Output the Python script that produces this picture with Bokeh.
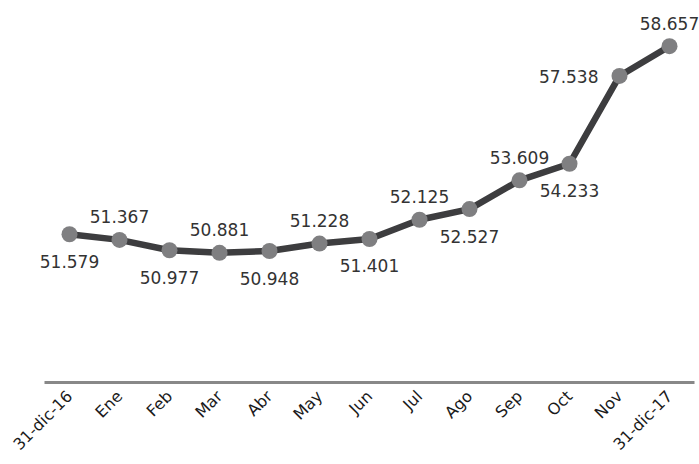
import math
from bokeh.plotting import figure
from bokeh.models import ColumnDataSource, Range1d, LabelSet, FixedTicker
from bokeh.core.properties import value
from bokeh.embed import file_html
from bokeh.resources import INLINE

categories = ["31-dic-16", "Ene", "Feb", "Mar", "Abr", "May", "Jun",
              "Jul", "Ago", "Sep", "Oct", "Nov", "31-dic-17"]
values = [51.579, 51.367, 50.977, 50.881, 50.948, 51.228, 51.401,
          52.125, 52.527, 53.609, 54.233, 57.538, 58.657]
labels = ["51.579", "51.367", "50.977", "50.881", "50.948", "51.228", "51.401",
          "52.125", "52.527", "53.609", "54.233", "57.538", "58.657"]

# label placement (style): below / above / left
placement = ["below", "above", "below", "above", "below", "above", "below",
             "above", "below", "above", "below", "left", "above"]

xo, yo, al = [], [], []
for pl in placement:
    if pl == "below":
        xo.append(0); yo.append(-27); al.append("center")
    elif pl == "above":
        xo.append(0); yo.append(23); al.append("center")
    else:
        xo.append(-21); yo.append(-1); al.append("right")

idx = list(range(len(categories)))
src = ColumnDataSource(dict(x=idx, y=values, t=labels, xo=xo, yo=yo, al=al))

p = figure(x_range=Range1d(-1.38, 12.6), y_range=Range1d(46, 60), width=699, height=464,
           output_backend="svg", toolbar_location=None,
           min_border_left=0, min_border_right=0, min_border_top=10, min_border_bottom=82)
p.outline_line_color = None
p.xgrid.visible = False
p.ygrid.visible = False
p.yaxis.visible = False
p.background_fill_color = "white"

p.line(x="x", y="y", source=src, line_color="#3d3d3f", line_width=6.5)
p.scatter(x="x", y="y", source=src, size=16, fill_color="#7f7f81", line_color=None)
labelset = LabelSet(x="x", y="y", text="t", source=src, x_offset="xo", y_offset="yo",
                    text_align="al", text_baseline="middle", text_font=value("DejaVu Sans"),
                    text_font_size="17px", text_color="#333333")
p.add_layout(labelset)

ax = p.xaxis[0]
ax.ticker = FixedTicker(ticks=idx)
ax.major_label_overrides = {i: c for i, c in zip(idx, categories)}
ax.bounds = (idx[0] - 0.5, idx[-1] + 0.5)
ax.axis_line_color = "#888888"
ax.axis_line_width = 3
ax.major_tick_line_color = None
ax.minor_tick_line_color = None
ax.major_tick_out = 0
ax.major_tick_in = 0
ax.minor_tick_out = 0
ax.minor_tick_in = 0
ax.major_label_orientation = math.pi / 4
ax.major_label_text_font = "DejaVu Sans"
ax.major_label_text_font_size = "16px"
ax.major_label_text_color = "#1a1a1a"
ax.major_label_standoff = 11

open("out.html", "w").write(file_html(p, INLINE))
